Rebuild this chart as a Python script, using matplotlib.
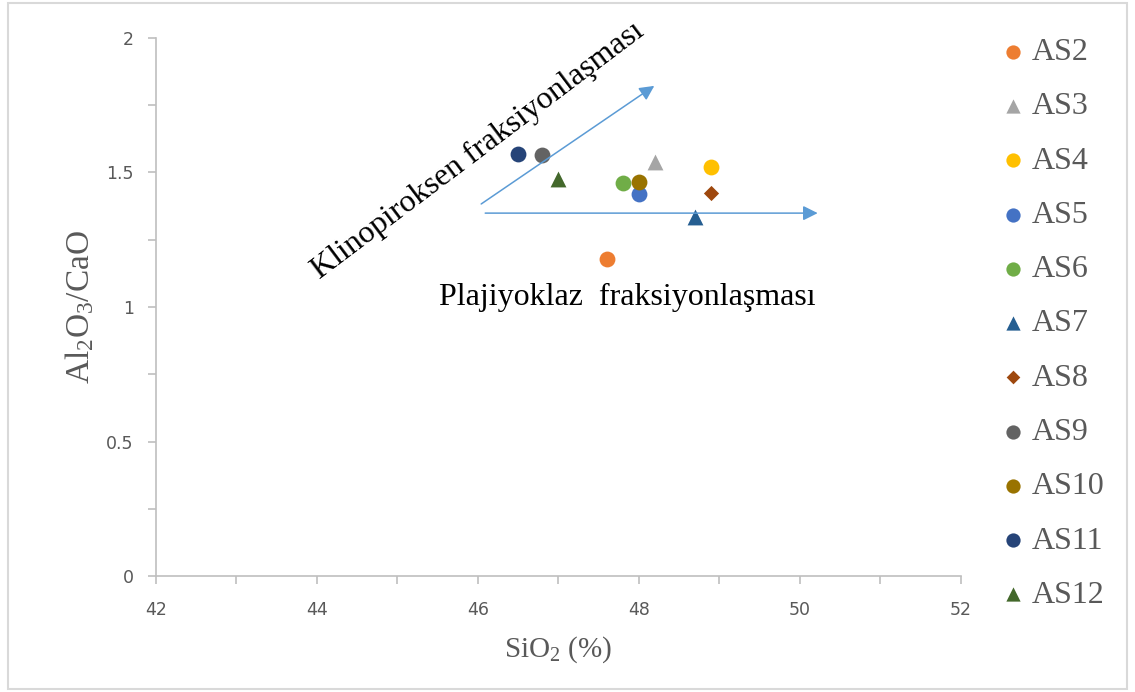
import matplotlib.pyplot as plt
from matplotlib.patches import Rectangle

plt.rcParams['mathtext.fontset'] = 'custom'
plt.rcParams['mathtext.rm'] = 'Liberation Serif'
plt.rcParams['mathtext.it'] = 'Liberation Serif:italic'

# samples: SiO2 (%) vs Al2O3/CaO
samples = ["AS2", "AS3", "AS4", "AS5", "AS6", "AS7", "AS8", "AS9", "AS10", "AS11", "AS12"]
sio2 = [47.60, 48.20, 48.90, 48.00, 47.80, 48.70, 48.90, 46.80, 48.00, 46.50, 47.00]
al_ca = [1.18, 1.54, 1.52, 1.42, 1.46, 1.335, 1.425, 1.565, 1.465, 1.57, 1.475]
markers = ["o", "^", "o", "o", "o", "^", "D", "o", "o", "o", "^"]
colors = ["#ED7D31", "#A5A5A5", "#FFC000", "#4472C4", "#70AD47", "#255E91",
          "#9E480E", "#636363", "#997300", "#264478", "#43682B"]

gray = "#595959"
serif = "Liberation Serif"

fig = plt.figure(figsize=(11.35, 6.92), dpi=100)
ax = fig.add_axes([0.1374, 0.1676, 0.7093, 0.7775])

for name, x, y, m, c in zip(samples, sio2, al_ca, markers, colors):
    size = 60 if m == "D" else 130
    ax.scatter(x, y, marker=m, s=size, color=c, label=name, zorder=3, linewidths=0)

# fractionation arrows
arrow = dict(arrowstyle="-|>", color="#5B9BD5", lw=1.1, mutation_scale=22, shrinkA=0, shrinkB=0)
ax.annotate("", xy=(48.19, 1.822), xytext=(46.04, 1.383), arrowprops=arrow)
ax.annotate("", xy=(50.22, 1.349), xytext=(46.09, 1.349), arrowprops=arrow)

ax.text(46.0, 1.58, "Klinopiroksen fraksiyonlaşması", rotation=37, rotation_mode="anchor",
        ha="center", va="center", family=serif, fontsize=23, color="black")
ax.text(47.85, 1.035, "Plajiyoklaz  fraksiyonlaşması", ha="center", va="center",
        family=serif, fontsize=23, color="black")

ax.set_xlim(42, 52)
ax.set_ylim(0, 2)
ax.set_xticks(range(42, 53, 2))
ax.set_xticks(range(42, 53, 1), minor=True)
ax.set_yticks([0, 0.5, 1, 1.5, 2])
ax.set_yticklabels(["0", "0.5", "1", "1.5", "2"])
ax.set_yticks([0.25, 0.75, 1.25, 1.75], minor=True)

for s in ["top", "right"]:
    ax.spines[s].set_visible(False)
for s in ["left", "bottom"]:
    ax.spines[s].set_color("#BFBFBF")
    ax.spines[s].set_linewidth(1.2)
ax.tick_params(which="both", direction="out", length=6, width=1.2, color="#BFBFBF",
               labelcolor=gray, labelsize=12.5)
ax.tick_params(axis="x", pad=12)
ax.tick_params(axis="y", pad=10)

ax.set_xlabel("SiO$_2$ (%)", family=serif, fontsize=21, color=gray, va="center")
ax.xaxis.set_label_coords(0.5, -0.136)
ax.set_ylabel("Al$_2$O$_3$/CaO", family=serif, fontsize=24, color=gray, va="center")
ax.yaxis.set_label_coords(-0.094, 0.5)

leg = fig.legend(loc="upper left", bbox_to_anchor=(0.853, 0.987), frameon=False,
                 prop={"family": serif, "size": 23}, labelspacing=0.78,
                 handlelength=1.0, handletextpad=0.1, markerscale=0.9, labelcolor=gray)

fig.patches.append(Rectangle((8 / 1135, 3 / 692), 1119 / 1135, 686 / 692,
                             transform=fig.transFigure, fill=False,
                             edgecolor="#D9D9D9", lw=1.5))

fig.savefig("out.png", dpi=100)
